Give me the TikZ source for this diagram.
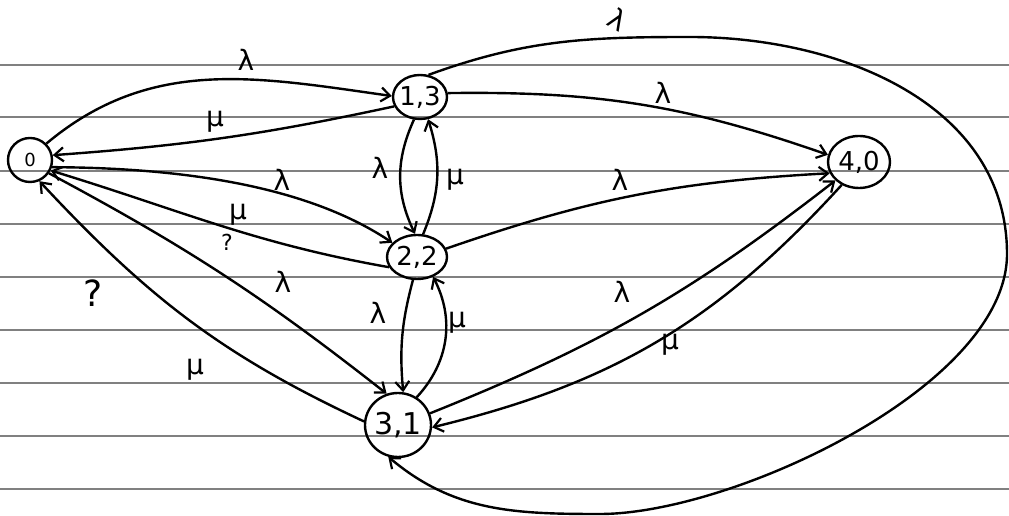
\documentclass[tikz,border=0pt]{standalone}
\usepackage{fontspec}
\setmainfont{DejaVu Sans}
\usetikzlibrary{arrows.meta,shapes.geometric}
\newcommand\zt[1]{\makebox[0pt]{#1}}
\begin{document}
\begin{tikzpicture}[x=1pt,y=1pt,
  st/.style={draw, ellipse, line width=2.4pt, inner sep=0pt, font=\fontsize{26}{30}\selectfont},
  edg/.style={line width=2.4pt, -{Straight Barb[length=9pt,width=14pt,line width=2.2pt]}},
  lab/.style={font=\fontsize{28}{32}\selectfont, inner sep=0pt},
  rule/.style={gray, line width=1.6pt}]
\useasboundingbox (0,0) rectangle (1009,516);
\foreach \y in {451,399,345,292,239,186,133,80,27} \draw[rule] (0,\y) -- (1009,\y);
% states
\node[st, minimum width=44pt, minimum height=44pt, font=\fontsize{18}{20}\selectfont] (n0) at (30,356) {\zt{0}};
\node[st, minimum width=54pt, minimum height=44pt] (n13) at (420,419) {\zt{1,3}};
\node[st, minimum width=62pt, minimum height=52pt] (n40) at (859,354) {\zt{4,0}};
\node[st, minimum width=60pt, minimum height=44pt] (n22) at (417,259) {\zt{2,2}};
\node[st, minimum width=66pt, minimum height=64pt, font=\fontsize{30}{34}\selectfont] (n31) at (398,91) {\zt{3,1}};
% transitions
\draw[edg] (n0.45) to[out=40,in=172] (n13.178);
\draw[edg] (n13.200) to[bend left=4] (n0.12);
\draw[edg] (n0.-18) .. controls (230,348) and (330,315) .. (n22.150);
\draw[edg] (n22.200) to[out=170,in=-17] (n0.-27);
\draw[edg] (n0.-35) to[bend left=5] (n31.110);
\draw[edg] (n31.174) to[out=155,in=-47] (n0.-66);
\draw[edg] (n13.-105) to[bend right=25] (n22.95);
\draw[edg] (n22.75) to[bend right=20] (n13.-70);
\draw[edg] (n22.-100) to[bend right=10] (n31.81);
\draw[edg] (n31.56) to[bend right=35] (n22.-51);
\draw[edg] (n13.8) to[bend left=10] (n40.167);
\draw[edg] (n22.16) to[bend left=8] (n40.201);
\draw[edg] (n31.20) to[bend right=8] (n40.218);
\draw[edg] (n40.233) to[bend left=17] (n31.-4);
\coordinate (lt) at (690,479);
\coordinate (lr) at (1007,262);
\coordinate (lb) at (600,2);
\draw[edg] (n13.69) to[out=20,in=180] (lt) to[out=0,in=90,looseness=1.0] (lr)
  to[out=-90,in=0,looseness=0.7] (lb) to[out=180,in=-40] (n31.253);
% labels
\node[lab] (l1) at (246,456) {λ};
\node[lab] (l2) at (215,394) {μ};
\node[lab] (l3) at (282,336) {λ};
\node[lab] (l4) at (238,301) {μ};
\node[lab, font=\fontsize{22}{24}\selectfont] (q1) at (227,274) {?};
\node[lab] (l5) at (283,234) {λ};
\node[lab] (l6) at (195,146) {μ};
\node[lab, font=\fontsize{36}{40}\selectfont] (q2) at (93,223) {?};
\node[lab] (l7) at (380,348) {λ};
\node[lab] (l8) at (455,336) {μ};
\node[lab] (l9) at (378,203) {λ};
\node[lab] (l10) at (457,193) {μ};
\node[lab] (l11) at (663,423) {λ};
\node[lab] (l12) at (620,336) {λ};
\node[lab] (l13) at (622,224) {λ};
\node[lab] (l14) at (670,171) {μ};
\node[lab, rotate=-30] (l15) at (618,497) {λ};
\end{tikzpicture}
\end{document}
